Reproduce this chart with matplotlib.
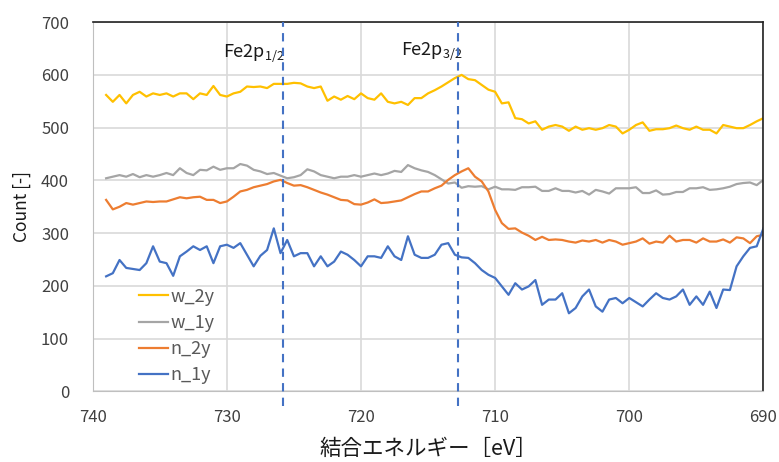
import numpy as np
import matplotlib
matplotlib.use("Agg")
import matplotlib.pyplot as plt

plt.rcParams['font.family'] = ['Noto Sans CJK JP', 'DejaVu Sans']

# binding energy grid, 739 -> 690 eV in 0.5 eV steps
energy = np.arange(739.0, 689.9, -0.5)

w_2y = [562, 549, 562, 546, 562, 568, 559, 565, 562, 565, 559, 565, 565, 554, 565, 562, 579, 562,
        559, 565, 568, 578, 577, 578, 575, 583, 583, 583, 585, 584, 578, 575, 578, 551, 559, 553, 560, 554,
        565, 556, 553, 565, 549, 546, 549, 543, 556, 556, 565, 571, 578, 586, 594, 600, 592, 590, 581, 572,
        568, 546, 548, 518, 516, 508, 512, 496, 502, 505, 502, 494, 502, 496, 499, 496, 499, 505, 502, 489,
        496, 505, 510, 494, 497, 497, 499, 504, 499, 496, 502, 496, 496, 489, 505, 502, 499, 499, 505, 512, 518]

w_1y = [404, 407, 410, 407, 412, 406, 410, 407, 410, 414, 410, 423, 414, 410, 420, 419, 426, 420,
        423, 423, 431, 428, 420, 417, 412, 414, 409, 404, 406, 410, 421, 417, 410, 407, 404, 407, 407, 410,
        407, 410, 413, 410, 413, 418, 416, 429, 423, 419, 416, 410, 402, 394, 396, 386, 389, 388, 389, 383,
        388, 383, 383, 382, 387, 387, 388, 380, 380, 385, 380, 380, 377, 380, 373, 382, 379, 375, 385, 385,
        385, 387, 376, 376, 381, 373, 374, 378, 378, 385, 385, 387, 382, 383, 385, 388, 393, 395, 396, 391, 401]

n_2y = [363, 345, 350, 357, 354, 357, 360, 359, 360, 360, 364, 368, 366, 368, 369, 363, 363, 357,
        360, 369, 379, 382, 387, 390, 393, 398, 401, 395, 390, 391, 387, 382, 377, 373, 368, 363, 362, 355,
        354, 358, 364, 357, 358, 360, 362, 368, 374, 379, 379, 385, 390, 401, 410, 417, 423, 407, 398, 379,
        344, 319, 308, 309, 301, 295, 287, 293, 287, 288, 287, 284, 282, 286, 284, 287, 282, 287, 284, 278,
        281, 284, 290, 280, 284, 282, 295, 284, 287, 287, 282, 290, 284, 284, 288, 282, 292, 290, 281, 294, 297]

n_1y = [218, 224, 249, 234, 232, 230, 243, 275, 246, 243, 219, 256, 265, 275, 268, 275, 243, 275,
        278, 272, 281, 259, 237, 257, 268, 309, 262, 287, 256, 262, 262, 237, 256, 237, 246, 265, 259, 249,
        237, 256, 256, 253, 275, 256, 249, 294, 259, 253, 253, 259, 278, 281, 259, 254, 253, 243, 230, 221,
        215, 199, 183, 205, 193, 199, 211, 164, 174, 174, 186, 148, 158, 180, 193, 161, 151, 174, 177, 167,
        177, 169, 161, 174, 186, 177, 174, 180, 193, 164, 180, 164, 189, 158, 193, 192, 237, 256, 272, 275, 309]

series = [("w_2y", w_2y, "#FFC000"),
          ("w_1y", w_1y, "#A5A5A5"),
          ("n_2y", n_2y, "#ED7D31"),
          ("n_1y", n_1y, "#4472C4")]

peaks = [725.8, 712.8]
peak_labels = [r"Fe2p$\mathregular{_{1/2}}$", r"Fe2p$\mathregular{_{3/2}}$"]

fig = plt.figure(figsize=(7.79, 4.62), dpi=100)
ax = fig.add_axes([0.119, 0.153, 0.861, 0.799])

for name, vals, col in series:
    ax.plot(energy, vals, color=col, lw=1.6, label=name)

for xp in peaks:
    ax.vlines(xp, -27, 700, colors="#4472C4", linestyles=(0, (4, 3)), lw=1.5, clip_on=False, zorder=5)

ax.text(peaks[0] - 0.1, 640, peak_labels[0], ha="right", va="center", fontsize=13, color="#1a1a1a")
ax.text(peaks[1] - 0.35, 645, peak_labels[1], ha="right", va="center", fontsize=13, color="#1a1a1a")

ax.set_xlim(740, 690)
ax.set_ylim(0, 700)
ax.set_xticks(range(740, 689, -10))
ax.set_yticks(range(0, 701, 100))
ax.grid(True, color="#D9D9D9", lw=1.2)
ax.set_axisbelow(True)
ax.tick_params(length=0, labelsize=12, labelcolor="#404040")
ax.tick_params(axis="x", pad=13)
ax.tick_params(axis="y", pad=17)

for s in ["left", "bottom"]:
    ax.spines[s].set_color("#BFBFBF")
for s in ["top", "right"]:
    ax.spines[s].set_color("#222222")
    ax.spines[s].set_linewidth(1.2)

ax.set_ylabel("Count [-]", fontsize=12.5, color="#1a1a1a", labelpad=7)
ax.set_xlabel("結合エネルギー［eV］", fontsize=15.5, color="#1a1a1a", labelpad=8)

ax.legend(loc="upper left", bbox_to_anchor=(0.055, 0.305), frameon=False, fontsize=13,
          handlelength=1.6, handletextpad=0.15, labelspacing=0.45, borderpad=0,
          labelcolor="#595959")

fig.savefig("out.png", dpi=100)
